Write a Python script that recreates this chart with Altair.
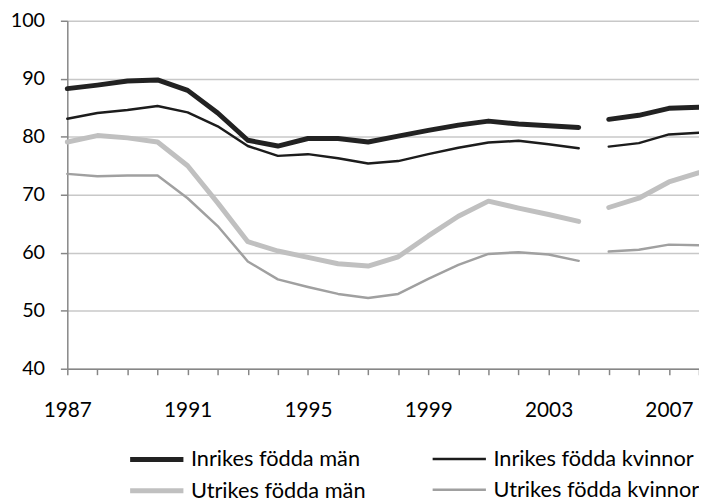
import altair as alt
import pandas as pd

years = list(range(1987, 2009))
series_names = ["Inrikes födda män", "Inrikes födda kvinnor", "Utrikes födda män", "Utrikes födda kvinnor"]
inrikes_man = [88.3, 88.9, 89.6, 89.8, 88.0, 84.1, 79.4, 78.4, 79.7, 79.7, 79.1, 80.1, 81.1, 82.0, 82.7, 82.2, 81.9, 81.6, 83.0, 83.7, 84.9, 85.1]
inrikes_kvinnor = [83.1, 84.1, 84.6, 85.3, 84.2, 81.8, 78.4, 76.7, 77.0, 76.3, 75.4, 75.8, 77.0, 78.1, 79.0, 79.3, 78.7, 78.0, 78.3, 78.9, 80.4, 80.7]
utrikes_man = [79.1, 80.2, 79.8, 79.1, 75.0, 68.6, 61.9, 60.3, 59.2, 58.1, 57.7, 59.3, 62.9, 66.3, 68.9, 67.7, 66.6, 65.4, 67.8, 69.4, 72.2, 73.8]
utrikes_kvinnor = [73.6, 73.2, 73.3, 73.3, 69.4, 64.6, 58.5, 55.4, 54.1, 52.9, 52.2, 52.9, 55.5, 57.9, 59.8, 60.1, 59.7, 58.6, 60.2, 60.5, 61.4, 61.3]
y_ticks = [40, 50, 60, 70, 80, 90, 100]

colors = ["#222222", "#1c1c1c", "#c0c0c0", "#a0a0a0"]
widths = [5, 2.5, 5, 2.5]

rows = []
for name, vals in zip(series_names, [inrikes_man, inrikes_kvinnor, utrikes_man, utrikes_kvinnor]):
    for yr, v in zip(years, vals):
        rows.append({"year": yr, "value": v, "series": name, "part": 1 if yr <= 2004 else 2})
df = pd.DataFrame(rows)

FONT = "Lato"

def make_legend():
    return alt.Legend(title=None, orient="none", legendX=77, legendY=430,
                      columns=2, direction="horizontal", symbolType="M-2.45,0H2.45",
                      symbolSize=484, labelFontSize=22, labelFont=FONT,
                      labelColor="#000000", columnPadding=62, rowPadding=7,
                      labelOffset=21, labelLimit=400)

chart = alt.Chart(df).mark_line(strokeCap="round", strokeJoin="round").encode(
    x=alt.X("year:Q",
            scale=alt.Scale(domain=[1987, 2008], nice=False, zero=False),
            axis=alt.Axis(title=None, values=years, format="d", grid=False,
                          labelExpr="((datum.value - 1987) % 4 == 0) ? datum.label : ''",
                          labelFlush=False, tickSize=6, labelPadding=25, labelFontSize=21)),
    y=alt.Y("value:Q",
            scale=alt.Scale(domain=[40, 100], nice=False, zero=False),
            axis=alt.Axis(title=None, values=y_ticks, grid=True, tickSize=7,
                          labelPadding=16, labelFontSize=20)),
    color=alt.Color("series:N", sort=series_names,
                    scale=alt.Scale(domain=series_names, range=colors),
                    legend=make_legend()),
    strokeWidth=alt.StrokeWidth("series:N", sort=series_names,
                                scale=alt.Scale(type="ordinal", domain=series_names, range=widths),
                                legend=make_legend()),
    detail="part:N",
).properties(
    width=639, height=352,
    autosize=alt.AutoSizeParams(type="none"),
    padding={"left": 60, "top": 10, "right": 0, "bottom": 140},
).configure_axis(
    labelFont=FONT, labelColor="#000000", domainColor="#868686", tickColor="#868686",
    gridColor="#c8c8c8", domainWidth=1.5, tickWidth=1.5, gridWidth=1.5,
).configure_view(stroke=None)

chart.save("out.html", embed_options={"renderer": "svg", "actions": False})
